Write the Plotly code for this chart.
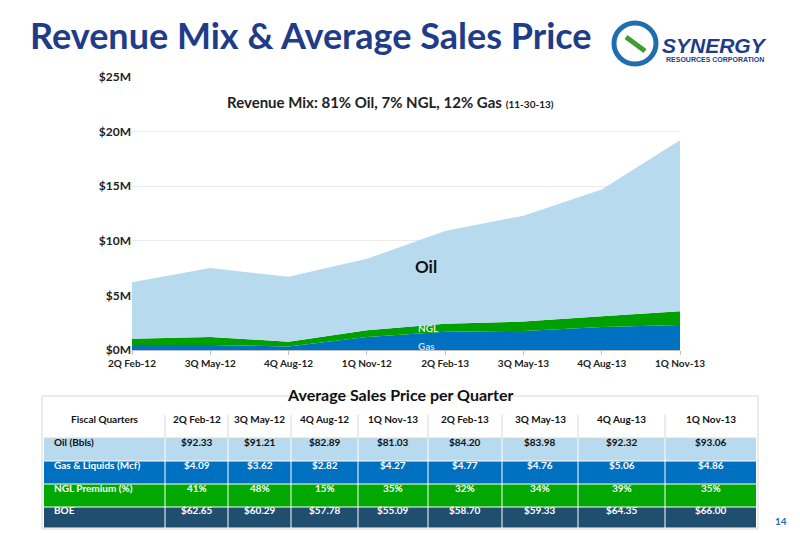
import plotly.graph_objects as go

quarters = ["2Q Feb-12","3Q May-12","4Q Aug-12","1Q Nov-12","2Q Feb-13","3Q May-13","4Q Aug-13","1Q Nov-13"]
gas = [0.45,0.45,0.33,1.2,1.67,1.75,2.1,2.3]
ngl = [0.58,0.75,0.43,0.6,0.73,0.85,1.0,1.25]
oil = [5.17,6.3,5.94,6.55,8.5,9.7,11.6,15.65]
ytick_vals = [0,5,10,15,20,25]
ytick_text = ["<b>$0M</b>","<b>$5M</b>","<b>$10M</b>","<b>$15M</b>","<b>$20M</b>","<b>$25M</b>"]

tbl_quarters = ["2Q Feb-12","3Q May-12","4Q Aug-12","1Q Nov-13","2Q Feb-13","3Q May-13","4Q Aug-13","1Q Nov-13"]
row_labels = ["Oil (Bbls)","Gas & Liquids (Mcf)","NGL Premium (%)","BOE"]
oil_price = ["$92.33","$91.21","$82.89","$81.03","$84.20","$83.98","$92.32","$93.06"]
gas_price = ["$4.09","$3.62","$2.82","$4.27","$4.77","$4.76","$5.06","$4.86"]
ngl_prem = ["41%","48%","15%","35%","32%","34%","39%","35%"]
boe = ["$62.65","$60.29","$57.78","$55.09","$58.70","$59.33","$64.35","$66.00"]

font = "Lato, 'Open Sans', sans-serif"
W, H = 800, 533
px = lambda x: x / W
py = lambda y: 1 - y / H
pya = lambda y: 1 - (y - 8) / H  # axis domain calibration

fig = go.Figure()
fig.add_trace(go.Scatter(x=quarters, y=gas, stackgroup="a", mode="none", fillcolor="#0070C0", name="Gas"))
fig.add_trace(go.Scatter(x=quarters, y=ngl, stackgroup="a", mode="none", fillcolor="#00A000", name="NGL"))
fig.add_trace(go.Scatter(x=quarters, y=oil, stackgroup="a", mode="none", fillcolor="#B8DAEE", name="Oil"))

shapes, ann = [], []
col_edges = [36, 157, 220, 283, 350, 420, 494, 570, 657, 748]
row_edges = [407, 430, 453, 476, 499, 520]
row_fill = ["white", "#B8DAEE", "#0070C0", "#00A800", "#1F4E6E"]
row_font = ["#111111", "#111111", "white", "white", "white"]
rows = [["Fiscal Quarters"] + tbl_quarters,
        [row_labels[0]] + oil_price,
        [row_labels[1]] + gas_price,
        [row_labels[2]] + ngl_prem,
        [row_labels[3]] + boe]
for r, vals in enumerate(rows):
    y0, y1 = row_edges[r], row_edges[r + 1]
    shapes.append(dict(type="rect", xref="paper", yref="paper", x0=px(col_edges[0]), x1=px(col_edges[-1]),
                       y0=py(y1), y1=py(y0), fillcolor=row_fill[r], line=dict(width=0), layer="below"))
    for c, v in enumerate(vals):
        x0, x1 = col_edges[c], col_edges[c + 1]
        if c > 0:
            shapes.append(dict(type="line", xref="paper", yref="paper", x0=px(x0), x1=px(x0), y0=py(y1), y1=py(y0),
                               line=dict(color="#D8D8D8" if r == 0 else "white", width=1)))
        left = (c == 0 and r > 0)
        ann.append(dict(text="<b>%s</b>" % v, x=px(x0 + 8) if left else px((x0 + x1) / 2), y=py((y0 + y1) / 2),
                        xref="paper", yref="paper", xanchor="left" if left else "center", showarrow=False,
                        font=dict(size=10, color=row_font[r], family=font)))
    shapes.append(dict(type="line", xref="paper", yref="paper", x0=px(col_edges[0]), x1=px(col_edges[-1]),
                       y0=py(y1), y1=py(y1), line=dict(color="white" if r else "#D8D8D8", width=1)))
shapes.append(dict(type="rect", xref="paper", yref="paper", x0=px(34), x1=px(750), y0=py(521), y1=py(388),
                   line=dict(color="#D8D8D8", width=1)))
shapes += [
    dict(type="circle", xref="paper", yref="paper", x0=px(606), x1=px(648), y0=py(56), y1=py(15),
         line=dict(color="#1F6FB0", width=5)),
    dict(type="line", xref="paper", yref="paper", x0=px(618), x1=px(637), y0=py(29), y1=py(43),
         line=dict(color="#3CA030", width=5)),
]
ann += [
    dict(text="<b>Revenue Mix & Average Sales Price</b>", x=px(20), y=py(27), xref="paper", yref="paper",
         xanchor="left", yanchor="middle", showarrow=False, font=dict(size=36, color="#1F3C88", family=font)),
    dict(text="<b>Revenue Mix: 81% Oil, 7% NGL, 12% Gas</b> <b><span style='font-size:10px'>(11-30-13)</span></b>",
         x=px(382), y=py(83), xref="paper", yref="paper", showarrow=False, font=dict(size=15, color="#222")),
    dict(text="<b>Oil</b>", x=px(418), y=py(259), xref="paper", yref="paper", showarrow=False,
         font=dict(size=17, color="#111")),
    dict(text="<b>NGL</b>", x=px(420), y=py(320), xref="paper", yref="paper", showarrow=False,
         font=dict(size=10, color="#D8F0D8")),
    dict(text="<b>Gas</b>", x=px(418), y=py(338), xref="paper", yref="paper", showarrow=False,
         font=dict(size=10, color="#C8DDF5")),
    dict(text="<b>Average Sales Price per Quarter</b>", x=px(392), y=py(398), xref="paper", yref="paper",
         showarrow=False, font=dict(size=16, color="#111")),
    dict(text="<b><i>SYNERGY</i></b>", x=px(652), y=py(24), xref="paper", yref="paper", xanchor="left",
         showarrow=False, font=dict(size=21, color="#1F3C88", family="Arial")),
    dict(text="<b>RESOURCES CORPORATION</b>", x=px(656), y=py(46), xref="paper", yref="paper", xanchor="left",
         showarrow=False, font=dict(size=7, color="#1F3C88", family="Arial")),
    dict(text="<b>14</b>", x=px(781), y=py(521), xref="paper", yref="paper", showarrow=False,
         font=dict(size=10, color="#1F6FB0")),
]

fig.update_layout(
    width=W, height=H, margin=dict(l=0, r=0, t=0, b=0, pad=0, autoexpand=False),
    paper_bgcolor="white", plot_bgcolor="white", showlegend=False,
    font=dict(family=font),
    xaxis=dict(domain=[px(124), px(672)], range=[0, 7], showgrid=False, showline=True, linecolor="#BFBFBF",
               tickvals=quarters, ticktext=["<b>%s</b>" % q for q in quarters], automargin=False,
               ticks="outside", ticklen=4, tickcolor="#BFBFBF", tickfont=dict(size=10, color="#222")),
    yaxis=dict(domain=[pya(350), pya(77)], range=[0, 25], tickvals=ytick_vals, ticktext=ytick_text,
               automargin=False, gridcolor="#EAEAEA", zeroline=False, tickfont=dict(size=12, color="#222")),
    annotations=ann, shapes=shapes,
)
fig.write_html("out.html")
